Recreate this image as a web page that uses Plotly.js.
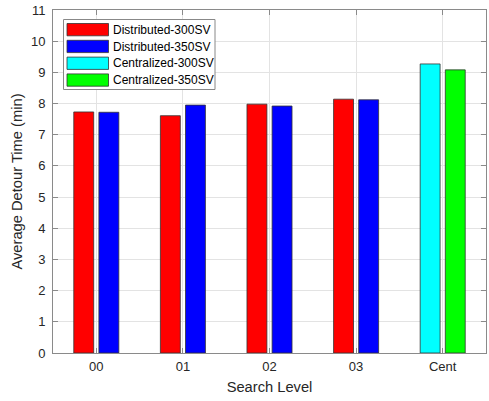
<!DOCTYPE html>
<html>
<head>
<meta charset="utf-8">
<script src="https://cdn.plot.ly/plotly-3.0.1.min.js"></script>
<style>html,body{margin:0;padding:0;background:#fff;}#chart{width:489px;height:401px;}</style>
</head>
<body>
<div id="chart"></div>
<script>
// ---- Data ----
const categories = ['00', '01', '02', '03', 'Cent'];
const distCats = ['00', '01', '02', '03'];
const centCats = ['Cent'];
const dist300 = [7.73, 7.61, 7.98, 8.14];
const dist350 = [7.72, 7.95, 7.92, 8.12];
const cent300 = [9.27];
const cent350 = [9.08];
const seriesNames = ['Distributed-300SV', 'Distributed-350SV', 'Centralized-300SV', 'Centralized-350SV'];
const seriesColors = ['#ff0000', '#0000ff', '#00ffff', '#00ff00'];

// ---- Layout geometry (pixels) ----
const W = 489, H = 401;
const M = {l: 53, r: 3, t: 10, b: 48};
const PW = W - M.l - M.r, PH = H - M.t - M.b;
const px = x => (x - M.l) / PW;
const py = y => (H - M.b - y) / PH;

const edge = {color: '#333333', width: 0.8};
function barTrace(x, y, i, offset) {
  return {
    type: 'bar', x: x, y: y, name: seriesNames[i],
    marker: {color: seriesColors[i], line: edge},
    offset: offset, width: 0.23, showlegend: false, hoverinfo: 'x+y'
  };
}
const traces = [
  barTrace(distCats, dist300, 0, -0.26),
  barTrace(distCats, dist350, 1, 0.03),
  barTrace(centCats, cent300, 2, -0.26),
  barTrace(centCats, cent350, 3, 0.03)
];

// ---- Custom MATLAB-style legend ----
const shapes = [{
  type: 'rect', xref: 'paper', yref: 'paper',
  x0: px(63.5), x1: px(215), y0: py(19.5), y1: py(89.5),
  fillcolor: '#ffffff', line: {color: '#888888', width: 1}
}];
const annotations = [];
for (let i = 0; i < 4; i++) {
  const top = 23.5 + i * 16.8;
  shapes.push({
    type: 'rect', xref: 'paper', yref: 'paper',
    x0: px(67), x1: px(108.5), y0: py(top), y1: py(top + 12.3),
    fillcolor: seriesColors[i], line: {color: '#333333', width: 0.8}
  });
  annotations.push({
    xref: 'paper', yref: 'paper', x: px(110.5), y: py(top + 6.2),
    xanchor: 'left', yanchor: 'middle', showarrow: false,
    text: seriesNames[i], font: {family: 'Liberation Sans, Arial, sans-serif', size: 12, color: '#000000'}
  });
}

const axisCommon = {
  showline: true, mirror: 'ticks', linecolor: '#8a8a8a', linewidth: 1,
  ticks: 'inside', ticklen: 5, tickcolor: '#8a8a8a', tickwidth: 1,
  showgrid: true, gridcolor: '#e3e3e3', gridwidth: 1, zeroline: false,
  tickfont: {family: 'Liberation Sans, Arial, sans-serif', size: 13, color: '#262626'}
};

const layout = {
  width: W, height: H,
  margin: M,
  paper_bgcolor: '#ffffff', plot_bgcolor: '#ffffff',
  barmode: 'overlay',
  showlegend: false,
  xaxis: Object.assign({}, axisCommon, {
    type: 'category', categoryorder: 'array', categoryarray: categories,
    range: [-0.5, 4.5], ticklabelstandoff: 1,
    title: {text: 'Search Level', standoff: 9, font: {family: 'Liberation Sans, Arial, sans-serif', size: 14.7, color: '#262626'}}
  }),
  yaxis: Object.assign({}, axisCommon, {
    range: [0, 11], dtick: 1, tick0: 0, ticklabelstandoff: 4,
    title: {text: 'Average Detour Time (min)', standoff: 4, font: {family: 'Liberation Sans, Arial, sans-serif', size: 14.7, color: '#262626'}}
  }),
  shapes: shapes,
  annotations: annotations
};

Plotly.newPlot('chart', traces, layout, {displayModeBar: false, staticPlot: true});
</script>
</body>
</html>
